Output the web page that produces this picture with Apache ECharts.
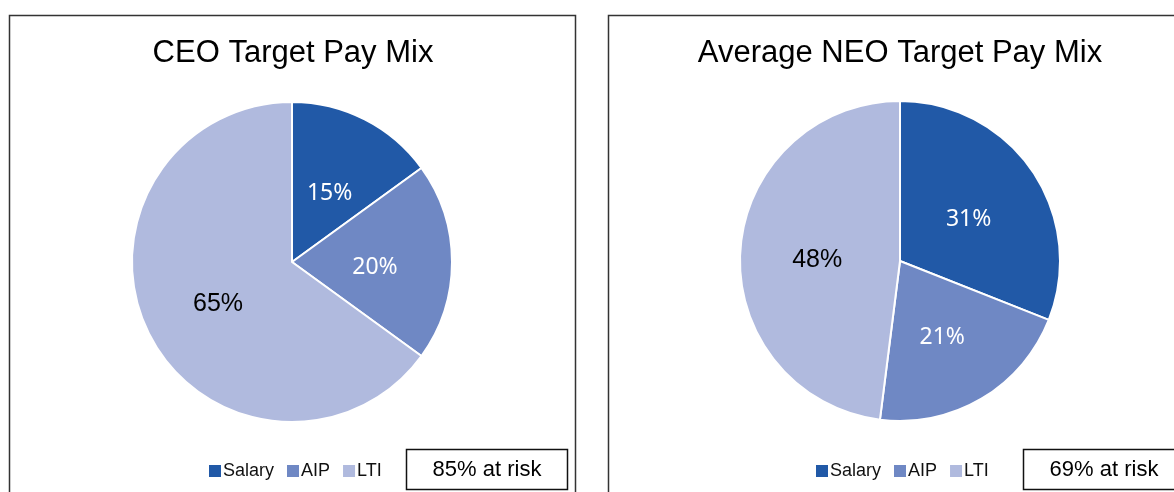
<!DOCTYPE html>
<html>
<head>
<meta charset="utf-8">
<script src="https://cdn.jsdelivr.net/npm/echarts@6/dist/echarts.min.js"></script>
<style>
html, body { margin: 0; padding: 0; background: #fff; }
#chart { width: 1174px; height: 492px; }
</style>
</head>
<body>
<div id="chart"></div>
<script>
// pay mix data
const categories = ['Salary', 'AIP', 'LTI'];
const ceoValues = [15, 20, 65];
const neoValues = [31, 21, 48];
const titles = ['CEO Target Pay Mix', 'Average NEO Target Pay Mix'];
const atRisk = ['85% at risk', '69% at risk'];

const colors = ['#2159A7', '#6F88C4', '#B0BADE'];
const font = '"Liberation Sans", Arial, sans-serif';

const chart = echarts.init(document.getElementById('chart'));

function pieData(vals) {
    return vals.map((v, i) => ({
        name: categories[i],
        value: v,
        itemStyle: { color: colors[i] },
        label: { formatter: i === 2 ? '{dk|{c}%}' : '{lt|{c}%}' }
    }));
}

function makePie(vals, center) {
    return {
        type: 'pie',
        radius: 160,
        center: center,
        startAngle: 90,
        clockwise: true,
        animation: false,
        silent: true,
        data: pieData(vals),
        itemStyle: { borderColor: '#fff', borderWidth: 2 },
        label: {
            show: true,
            position: 'inside',
            rich: {
                lt: { color: '#fff', fontFamily: '"Noto Sans", sans-serif', fontSize: 23, padding: [10, 0, 0, 0] },
                dk: { color: '#000', fontFamily: font, fontSize: 25, padding: [8, 0, 0, 0] }
            }
        },
        labelLine: { show: false }
    };
}

function makeLegend(left) {
    return {
        left: left,
        top: 462,
        padding: 0,
        orient: 'horizontal',
        icon: 'rect',
        itemWidth: 12,
        itemHeight: 12,
        itemGap: 13,
        selectedMode: false,
        itemStyle: { borderWidth: 0 },
        textStyle: { fontFamily: font, fontSize: 18, color: '#111', padding: [0, 0, 0, -3] },
        data: categories
    };
}

const option = {
    backgroundColor: '#fff',
    animation: false,
    legend: [makeLegend(209), makeLegend(816)],
    series: [
        makePie(ceoValues, [292, 262]),
        makePie(neoValues, [900, 261])
    ],
    graphic: [
        // panel frames
        { type: 'rect', shape: { x: 9.5, y: 15.5, width: 566, height: 500 },
          style: { fill: 'none', stroke: '#333', lineWidth: 1.5 } },
        { type: 'rect', shape: { x: 608.5, y: 15.5, width: 620, height: 500 },
          style: { fill: 'none', stroke: '#333', lineWidth: 1.5 } },
        // titles
        { type: 'text', x: 293, y: 53,
          style: { text: titles[0], fontFamily: font, fontSize: 31, fill: '#000',
                   textAlign: 'center', textVerticalAlign: 'middle' } },
        { type: 'text', x: 900, y: 53,
          style: { text: titles[1], fontFamily: font, fontSize: 31, fill: '#000',
                   textAlign: 'center', textVerticalAlign: 'middle' } },
        // at risk boxes
        { type: 'rect', shape: { x: 406.5, y: 449.5, width: 161, height: 40 },
          style: { fill: '#fff', stroke: '#111', lineWidth: 1.5 } },
        { type: 'text', x: 487, y: 470,
          style: { text: atRisk[0], fontFamily: font, fontSize: 22, fill: '#000',
                   textAlign: 'center', textVerticalAlign: 'middle' } },
        { type: 'rect', shape: { x: 1023.5, y: 449.5, width: 170, height: 40 },
          style: { fill: '#fff', stroke: '#111', lineWidth: 1.5 } },
        { type: 'text', x: 1104, y: 470,
          style: { text: atRisk[1], fontFamily: font, fontSize: 22, fill: '#000',
                   textAlign: 'center', textVerticalAlign: 'middle' } }
    ]
};

chart.setOption(option);
</script>
</body>
</html>
